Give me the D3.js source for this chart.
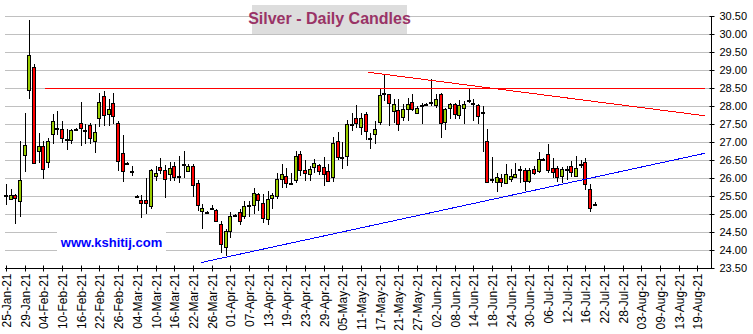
<!DOCTYPE html>
<html>
<head>
<meta charset="utf-8">
<script src="https://cdn.jsdelivr.net/npm/d3@7/dist/d3.min.js"></script>
<style>
  html, body { margin: 0; padding: 0; background: #fff; }
  svg { display: block; }
</style>
</head>
<body>
<svg id="chart" width="753" height="334"></svg>
<script>
// Trading calendar: weekdays from 25-Jan-21 to 24-Aug-21
const startDate = new Date(2021, 0, 25);
const endDate = new Date(2021, 7, 25);

// Daily silver OHLC (one entry per trading day from 25-Jan-21)
const open = [
  25.52, 25.43, 25.52, 25.36, 26.65, 28.45, 29.09, 26.76, 26.90, 26.45,
  27.23, 27.39, 27.37, 27.09, 27.06, 27.36, 27.52, 27.33, 27.48, 27.03,
  27.68, 28.29, 27.79, 28.09, 27.54, 26.70, 26.42, 26.20, 25.50, 25.40,
  25.40, 25.20, 26.06, 26.31, 26.21, 26.12, 26.34, 26.06, 26.40, 26.18,
  26.34, 25.87, 25.10, 25.05, 25.18, 25.12, 24.73, 24.09, 24.53, 24.97,
  25.06, 24.94, 25.26, 25.27, 25.55, 25.31, 24.88, 25.45, 25.52, 25.98,
  26.06, 25.87, 25.94, 26.66, 26.21, 26.10, 26.31, 26.35, 26.31, 26.19,
  26.04, 27.03, 26.58, 26.61, 27.49, 27.68, 27.43, 27.77, 27.10, 27.23,
  27.56, 28.35, 28.32, 27.86, 27.88, 27.72, 27.93, 28.12, 27.81, 28.03,
  28.05, 28.11, 28.03, 28.32, 27.56, 27.95, 28.05, 27.75, 27.95, 28.16,
  28.08, 28.03, 27.83, 27.02, 25.98, 25.89, 26.01, 25.87, 25.98, 26.03,
  26.26, 26.23, 25.90, 26.26, 26.18, 26.53, 26.66, 26.29, 26.29, 26.04,
  26.26, 26.34, 26.08, 26.40, 26.44, 25.70, 25.29
];
const high = [
  25.82, 25.69, 25.55, 27.03, 27.81, 30.38, 29.16, 27.26, 27.03, 27.12,
  27.77, 27.87, 27.58, 27.35, 27.37, 27.39, 28.10, 27.51, 27.53, 27.49,
  28.35, 28.43, 28.19, 28.35, 27.58, 27.19, 26.44, 26.33, 25.52, 25.53,
  26.01, 26.24, 26.33, 26.56, 26.35, 26.45, 26.44, 26.61, 26.76, 26.40,
  26.38, 25.94, 25.27, 25.07, 25.24, 25.15, 24.80, 24.57, 25.06, 24.99,
  25.13, 25.36, 25.36, 25.71, 25.59, 25.55, 25.64, 25.59, 26.14, 26.40,
  26.29, 26.15, 26.75, 26.75, 26.50, 26.33, 26.52, 26.40, 26.59, 26.40,
  27.14, 27.28, 27.00, 27.60, 27.81, 28.03, 27.81, 27.83, 27.26, 27.58,
  28.46, 28.90, 28.34, 28.19, 28.19, 28.05, 28.23, 28.32, 28.00, 28.09,
  28.07, 28.74, 28.32, 28.37, 27.95, 28.09, 28.09, 28.16, 28.14, 28.49,
  28.19, 28.06, 28.00, 27.35, 26.58, 26.15, 26.11, 26.38, 26.26, 26.42,
  26.33, 26.29, 26.27, 26.33, 26.72, 26.55, 26.94, 26.56, 26.33, 26.31,
  26.33, 26.47, 26.61, 26.50, 26.56, 25.82, 25.34
];
const low = [
  25.25, 25.39, 24.73, 24.93, 26.17, 28.19, 26.39, 26.43, 25.98, 26.28,
  26.95, 27.19, 26.97, 26.78, 26.94, 27.33, 26.89, 26.95, 26.95, 26.70,
  27.42, 27.44, 27.44, 27.49, 26.19, 25.90, 26.40, 26.06, 25.48, 24.88,
  25.01, 25.13, 25.91, 26.12, 25.44, 25.91, 25.92, 25.85, 25.99, 26.16,
  25.47, 25.08, 24.58, 25.03, 25.13, 24.79, 23.93, 23.83, 24.34, 24.95,
  24.69, 24.85, 24.93, 24.99, 25.08, 24.74, 24.69, 25.14, 25.43, 25.73,
  25.73, 25.83, 25.87, 26.06, 25.92, 25.92, 26.15, 26.07, 25.78, 25.89,
  25.89, 26.49, 26.24, 26.33, 27.31, 27.40, 27.20, 27.05, 26.81, 26.95,
  27.47, 28.14, 27.44, 27.52, 27.31, 27.58, 27.58, 27.86, 27.79, 27.49,
  28.03, 28.00, 27.94, 27.10, 27.33, 27.63, 27.63, 27.63, 27.49, 28.09,
  27.58, 27.49, 26.72, 25.87, 25.87, 25.61, 25.75, 25.82, 25.90, 26.01,
  25.87, 25.64, 25.85, 26.09, 26.15, 26.51, 26.15, 26.01, 25.89, 25.87,
  25.95, 26.03, 26.03, 26.27, 25.67, 25.06, 25.22
];
const close = [
  25.52, 25.54, 25.43, 25.94, 26.93, 29.43, 26.43, 26.90, 26.26, 27.03,
  27.58, 27.39, 27.12, 27.09, 27.34, 27.36, 27.37, 27.33, 27.12, 27.29,
  28.12, 27.77, 27.93, 27.73, 26.49, 26.21, 26.42, 26.20, 25.50, 25.31,
  25.31, 26.21, 26.15, 26.23, 25.95, 26.28, 26.04, 26.06, 26.40, 26.33,
  25.81, 25.25, 25.17, 25.05, 25.18, 24.81, 24.18, 24.53, 24.95, 24.97,
  24.82, 25.23, 25.26, 25.59, 25.39, 24.90, 25.43, 25.54, 25.98, 26.12,
  25.87, 25.87, 26.60, 26.21, 26.14, 26.24, 26.43, 26.17, 26.12, 25.90,
  26.98, 26.59, 26.58, 27.49, 27.49, 27.54, 27.68, 27.29, 27.10, 27.37,
  28.30, 28.35, 28.06, 28.06, 27.49, 27.93, 28.06, 27.93, 27.95, 28.03,
  28.05, 28.11, 28.20, 27.51, 27.91, 28.05, 27.77, 28.02, 28.06, 28.16,
  28.08, 27.72, 27.83, 25.89, 25.98, 26.04, 25.89, 26.12, 26.06, 26.10,
  26.26, 25.92, 26.21, 26.15, 26.52, 26.53, 26.21, 26.18, 26.03, 26.24,
  26.26, 26.17, 26.29, 26.40, 25.82, 25.18, 25.29
];

// Price axis ticks
const priceTicks = [23.5, 24.0, 24.5, 25.0, 25.5, 26.0, 26.5, 27.0, 27.5, 28.0, 28.5, 29.0, 29.5, 30.0, 30.5];

// Date axis labels (every fourth trading day)
const dateTickLabels = [
  "25-Jan-21", "29-Jan-21", "04-Feb-21", "10-Feb-21", "16-Feb-21", "22-Feb-21", "26-Feb-21",
  "04-Mar-21", "10-Mar-21", "16-Mar-21", "22-Mar-21", "26-Mar-21", "01-Apr-21", "07-Apr-21",
  "13-Apr-21", "19-Apr-21", "23-Apr-21", "29-Apr-21", "05-May-21", "11-May-21", "17-May-21",
  "21-May-21", "27-May-21", "02-Jun-21", "08-Jun-21", "14-Jun-21", "18-Jun-21", "24-Jun-21",
  "30-Jun-21", "06-Jul-21", "12-Jul-21", "16-Jul-21", "22-Jul-21", "28-Jul-21", "03-Aug-21",
  "09-Aug-21", "13-Aug-21", "19-Aug-21"
];

// Trend lines drawn on the chart, as [trading-day position, price]
const resistanceLine = [[8.3, 28.48], [149.6, 28.48]];
const fallingTopLine = [[77.4, 28.94], [149.5, 27.73]];
const risingBottomLine = [[41.7, 23.65], [149.7, 26.69]];

const svg = d3.select("#chart");

const days = d3.timeDay.range(startDate, endDate).filter(d => d.getDay() !== 0 && d.getDay() !== 6);
const dayIdx = d3.range(days.length);

const plotLeft = 5, plotRight = 711, plotTop = 16, plotBottom = 268;

const x = d3.scaleLinear().domain([0, days.length - 1]).range([6, 711.5]);
const y = d3.scaleLinear().domain([23.5, 30.5]).range([plotBottom, plotTop]);

const crisp = v => Math.round(v) + 0.5;

// Horizontal gridlines
svg.append("g")
  .selectAll("line")
  .data(priceTicks.filter(v => v > 23.5))
  .join("line")
  .attr("x1", plotLeft).attr("x2", plotRight)
  .attr("y1", d => crisp(y(d))).attr("y2", d => crisp(y(d)))
  .attr("stroke", "#c0c0c0").attr("stroke-width", 1);

// Date axis
const tickIdx = dayIdx.filter(i => i % 4 === 0 && i / 4 < dateTickLabels.length);
const xAxis = d3.axisBottom(x)
  .tickValues(tickIdx)
  .tickSize(0)
  .tickFormat((d, k) => dateTickLabels[k]);

const gx = svg.append("g")
  .attr("transform", `translate(0,${crisp(plotBottom)})`)
  .call(xAxis);
gx.select(".domain").remove();
gx.append("line")
  .attr("x1", plotLeft).attr("x2", plotRight + 0.5)
  .attr("y1", 0).attr("y2", 0)
  .attr("stroke", "#000");
gx.selectAll(".tick line").remove();
gx.selectAll(".tick").each(function (d) {
  d3.select(this).attr("transform", `translate(${crisp(x(d))},0)`);
});
gx.selectAll(".tick")
  .append("line")
  .attr("y1", -3).attr("y2", 3)
  .attr("stroke", "#000");
gx.selectAll(".tick text")
  .attr("transform", "rotate(-90)")
  .attr("x", -5)
  .attr("y", 0)
  .attr("dy", "0.36em")
  .attr("text-anchor", "end")
  .attr("fill", "#000")
  .style("font-family", "'Liberation Sans', Arial, sans-serif")
  .style("font-size", "12px");

// Price axis on the right
const yAxis = d3.axisRight(y)
  .tickValues(priceTicks)
  .tickSize(0)
  .tickFormat(d3.format(".2f"));
const gy = svg.append("g")
  .attr("transform", `translate(${crisp(plotRight)},0)`)
  .call(yAxis);
gy.select(".domain").remove();
gy.append("line")
  .attr("x1", 0).attr("x2", 0)
  .attr("y1", crisp(plotTop)).attr("y2", crisp(plotBottom) + 0.5)
  .attr("stroke", "#000");
gy.selectAll(".tick").each(function (d) {
  d3.select(this).attr("transform", `translate(0,${crisp(y(d))})`);
});
gy.selectAll(".tick")
  .append("line")
  .attr("x1", -2).attr("x2", 3)
  .attr("stroke", "#000");
gy.selectAll(".tick text")
  .attr("x", 8)
  .attr("dy", "0.36em")
  .attr("fill", "#000")
  .style("font-family", "'Liberation Sans', Arial, sans-serif")
  .style("font-size", "11px");

// Candles
const candles = d3.range(open.length).map(i => ({
  i, o: open[i], h: high[i], l: low[i], c: close[i]
}));

const cg = svg.append("g").attr("class", "candles");
const candle = cg.selectAll("g")
  .data(candles)
  .join("g");

candle.append("line")
  .attr("x1", d => crisp(x(d.i))).attr("x2", d => crisp(x(d.i)))
  .attr("y1", d => Math.round(y(d.h))).attr("y2", d => Math.round(y(d.l)))
  .attr("stroke", "#000").attr("stroke-width", 1);

candle.append("rect")
  .attr("x", d => Math.round(x(d.i)) - 1.5)
  .attr("width", 3)
  .attr("y", d => crisp(y(Math.max(d.o, d.c))))
  .attr("height", d => Math.max(1, Math.round(Math.abs(y(d.o) - y(d.c)))))
  .attr("fill", d => d.c > d.o ? "#99cc00" : d.c < d.o ? "#ff0000" : "#000")
  .attr("stroke", "#000")
  .attr("stroke-width", 1);

// Trend lines
const line = d3.line().x(d => x(d[0])).y(d => y(d[1]));
const trendG = svg.append("g").attr("shape-rendering", "crispEdges");
trendG.append("path").datum(resistanceLine)
  .attr("d", line).attr("fill", "none").attr("stroke", "#ff0000").attr("stroke-width", 1);
trendG.append("path").datum(fallingTopLine)
  .attr("d", line).attr("fill", "none").attr("stroke", "#ff0000").attr("stroke-width", 1);
trendG.append("path").datum(risingBottomLine)
  .attr("d", line).attr("fill", "none").attr("stroke", "#0000ff").attr("stroke-width", 1);

// Title box
const titleG = svg.append("g");
titleG.append("rect")
  .attr("x", 252).attr("y", 5).attr("width", 155).attr("height", 29)
  .attr("fill", "#dddddd");
titleG.append("text")
  .attr("x", 329.5).attr("y", 24)
  .attr("text-anchor", "middle")
  .attr("fill", "#993366")
  .style("font-family", "'Liberation Sans', Arial, sans-serif")
  .style("font-size", "16px")
  .style("font-weight", "bold")
  .text("Silver - Daily Candles");

// Website label
const siteG = svg.append("g");
siteG.append("rect")
  .attr("x", 57).attr("y", 226).attr("width", 109).attr("height", 31)
  .attr("fill", "#fff");
siteG.append("text")
  .attr("x", 111.5).attr("y", 247)
  .attr("text-anchor", "middle")
  .attr("fill", "#0000ff")
  .style("font-family", "'Liberation Sans', Arial, sans-serif")
  .style("font-size", "13px")
  .style("font-weight", "bold")
  .text("www.kshitij.com");
</script>
</body>
</html>
